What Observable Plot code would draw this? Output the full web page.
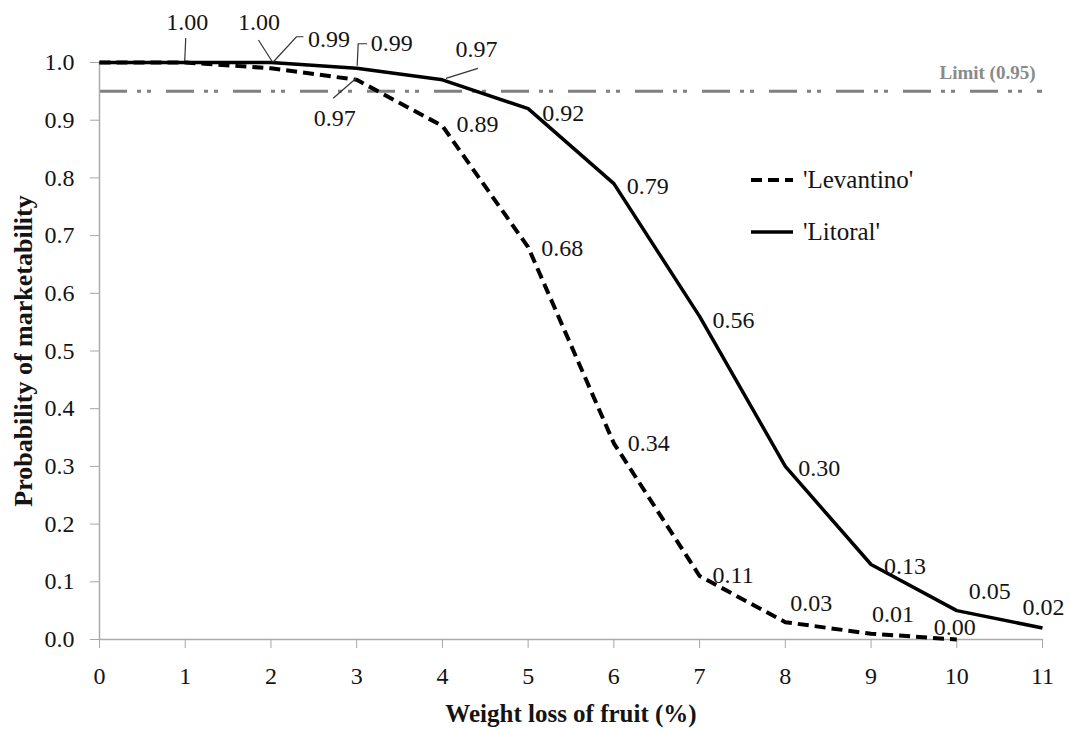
<!DOCTYPE html>
<html>
<head>
<meta charset="utf-8">
<script src="https://cdn.jsdelivr.net/npm/d3@7"></script>
<script src="https://cdn.jsdelivr.net/npm/@observablehq/plot@0.6"></script>
<style>
  html, body { margin: 0; padding: 0; background: #fff; }
  #chart svg { display: block; }
</style>
</head>
<body>
<div id="chart"></div>
<script>
// ---- data ----
const weightLoss = [0, 1, 2, 3, 4, 5, 6, 7, 8, 9, 10, 11];
const levantinoX = [0, 1, 2, 3, 4, 5, 6, 7, 8, 9, 10];
const levantino = [1.00, 1.00, 0.99, 0.97, 0.89, 0.68, 0.34, 0.11, 0.03, 0.01, 0.00];
const litoralX = [0, 1, 2, 3, 4, 5, 6, 7, 8, 9, 10, 11];
const litoral = [1.00, 1.00, 1.00, 0.99, 0.97, 0.92, 0.79, 0.56, 0.30, 0.13, 0.05, 0.02];
const yTicks = [0.0, 0.1, 0.2, 0.3, 0.4, 0.5, 0.6, 0.7, 0.8, 0.9, 1.0];
const xTicks = weightLoss;
const limitValue = 0.95;
const limitLabel = "Limit (0.95)";
const seriesNames = ["'Levantino'", "'Litoral'"];
const xTitle = "Weight loss of fruit (%)";
const yTitle = "Probability of marketability";
const litoralLabeledX = [1, 2, 3, 4, 5, 6, 7, 8, 9, 10, 11];
const levantinoLabeledX = [2, 3, 4, 5, 6, 7, 8, 9, 10];

// ---- label placement (pixel offsets from the data point) ----
const litoralLabelLayout = {
  1:  {anchor: "middle", dx: 2,   dy: -40, leader: [[1, -24], [0, -1]]},
  2:  {anchor: "middle", dx: -12, dy: -40, leader: [[-12, -22], [2, 0]]},
  3:  {anchor: "start",  dx: 14,  dy: -25, leader: [[11, -24], [2, -24], [1, -2]]},
  4:  {anchor: "middle", dx: 34,  dy: -30, leader: [[36, -11], [4, -1]]},
  5:  {anchor: "start",  dx: 14,  dy: 5},
  6:  {anchor: "start",  dx: 13,  dy: 3},
  7:  {anchor: "start",  dx: 13,  dy: 4},
  8:  {anchor: "start",  dx: 13,  dy: 2},
  9:  {anchor: "start",  dx: 13,  dy: 2},
  10: {anchor: "start",  dx: 12,  dy: -19},
  11: {anchor: "middle", dx: 1,   dy: -21}
};
const levantinoLabelLayout = {
  2:  {anchor: "start",  dx: 37,  dy: -29, leader: [[33, -31], [26, -31], [3, -6]]},
  3:  {anchor: "middle", dx: -22, dy: 39,  leader: [[-23, 19], [0, -1]]},
  4:  {anchor: "start",  dx: 14,  dy: -2},
  5:  {anchor: "start",  dx: 13,  dy: 1},
  6:  {anchor: "start",  dx: 14,  dy: 0},
  7:  {anchor: "start",  dx: 13,  dy: -1},
  8:  {anchor: "start",  dx: 5,   dy: -19},
  9:  {anchor: "start",  dx: 1,   dy: -19},
  10: {anchor: "start",  dx: -23, dy: -12}
};

const levData = levantinoX.map((x, i) => ({x, y: levantino[i]}));
const litData = litoralX.map((x, i) => ({x, y: litoral[i]}));
const fmt2 = d3.format(".2f");
const FONT = "'Liberation Serif', 'Times New Roman', serif";
const TEXT = "#141414";

function labelMarks(data, labeledX, layout) {
  return labeledX.map(x => {
    const d = data.find(p => p.x === x);
    const L = layout[x];
    return Plot.text([d], {
      x: "x", y: "y", text: p => fmt2(p.y),
      textAnchor: L.anchor, lineAnchor: "middle",
      dx: L.dx, dy: L.dy, fontSize: 24, fill: TEXT
    });
  });
}

const chart = Plot.plot({
  width: 1070,
  height: 729,
  marginLeft: 99,
  marginRight: 28,
  marginTop: 62,
  marginBottom: 90,
  x: {domain: [0, 11]},
  y: {domain: [0, 1]},
  style: {fontFamily: FONT, fontSize: "24px", color: TEXT, background: "#fff", overflow: "visible"},
  marks: [
    Plot.ruleY([limitValue], {stroke: "#808080", strokeWidth: 3, strokeDasharray: "28,10,4,6,4,15"}),
    Plot.ruleX([0], {stroke: "#ababab", strokeWidth: 1.5}),
    Plot.ruleY([0], {stroke: "#ababab", strokeWidth: 1.5}),
    Plot.axisX({ticks: xTicks, tickFormat: d3.format("d"), tickSize: 9, tickPadding: 18, label: null,
                stroke: "#a6a6a6", fill: TEXT, fontSize: 24}),
    Plot.axisY({ticks: yTicks, tickFormat: d3.format(".1f"), tickSize: 9, tickPadding: 16, label: null,
                stroke: "#a6a6a6", fill: TEXT, fontSize: 24}),
    Plot.line(levData, {x: "x", y: "y", stroke: "#000", strokeWidth: 4, strokeDasharray: "11,6",
                        strokeLinejoin: "miter", strokeLinecap: "butt"}),
    Plot.line(litData, {x: "x", y: "y", stroke: "#000", strokeWidth: 3.5,
                        strokeLinejoin: "miter", strokeLinecap: "butt"}),
    ...labelMarks(litData, litoralLabeledX, litoralLabelLayout),
    ...labelMarks(levData, levantinoLabeledX, levantinoLabelLayout),
    Plot.text([limitLabel], {y: () => limitValue, frameAnchor: "right", textAnchor: "end", lineAnchor: "middle",
                             dx: -7, dy: -18, text: d => d, fill: "#8a8a8a", fontWeight: "bold", fontSize: 19}),
    Plot.text([xTitle], {frameAnchor: "bottom", textAnchor: "middle", lineAnchor: "middle", dy: 74,
                         text: d => d, fontWeight: "bold", fontSize: 25, fill: TEXT}),
    Plot.text([yTitle], {frameAnchor: "left", textAnchor: "middle", lineAnchor: "middle", dx: -76, rotate: -90,
                         text: d => d, fontWeight: "bold", fontSize: 26, fill: TEXT})
  ]
});

document.getElementById("chart").appendChild(chart);

// ---- leader lines & legend ----
const xs = chart.scale("x"), ys = chart.scale("y");
const svg = d3.select(chart);
const leaderG = svg.append("g").attr("fill", "none").attr("stroke", "#333").attr("stroke-width", 1.2);
function drawLeaders(data, layout) {
  Object.keys(layout).forEach(k => {
    const L = layout[k];
    if (!L.leader) return;
    const d = data.find(p => p.x === +k);
    const px = xs.apply(d.x), py = ys.apply(d.y);
    leaderG.append("path").attr("d", d3.line()(L.leader.map(([ox, oy]) => [px + ox, py + oy])));
  });
}
drawLeaders(litData, litoralLabelLayout);
drawLeaders(levData, levantinoLabelLayout);

const legend = svg.append("g").attr("font-family", FONT).attr("font-size", 25)
  .attr("fill", TEXT).attr("text-anchor", "start");
const legendItems = [
  {name: seriesNames[0], dash: "11,6", width: 4, y: 180},
  {name: seriesNames[1], dash: null, width: 3.5, y: 232}
];
legendItems.forEach(it => {
  legend.append("line").attr("x1", 751).attr("x2", 793).attr("y1", it.y).attr("y2", it.y)
    .attr("stroke", "#000").attr("stroke-width", it.width).attr("stroke-dasharray", it.dash);
  legend.append("text").attr("x", 803).attr("y", it.y).attr("dy", "0.32em").text(it.name);
});
</script>
</body>
</html>
